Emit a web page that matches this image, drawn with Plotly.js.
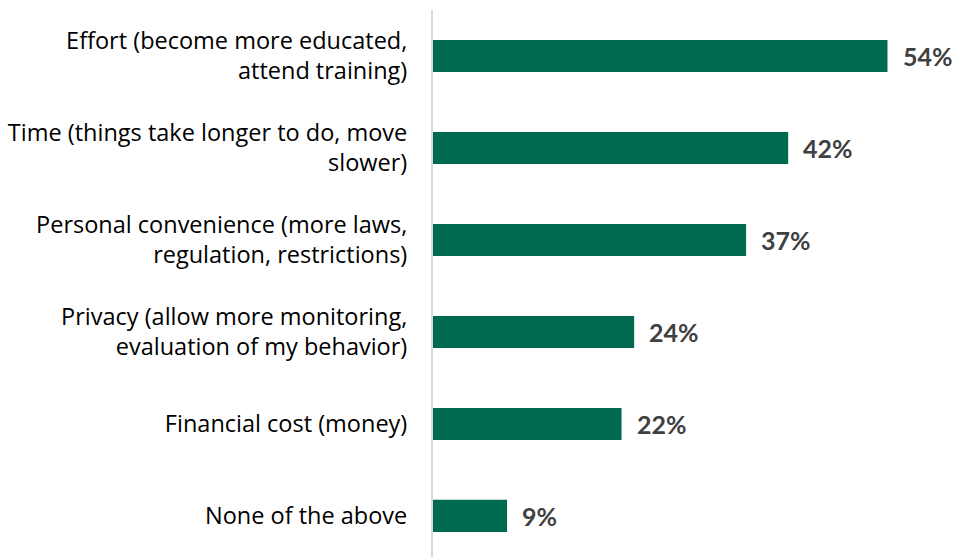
<!DOCTYPE html>
<html>
<head>
<meta charset="utf-8">
<script src="https://cdn.plot.ly/plotly-3.0.1.min.js"></script>
<style>html,body{margin:0;padding:0;background:#fff}#chart{width:956px;height:557px}</style>
</head>
<body>
<div id="chart"></div>
<script>
const categories = [
  "Effort (become more educated,<br>attend training)",
  "Time (things take longer to do, move<br>slower)",
  "Personal convenience (more laws,<br>regulation, restrictions)",
  "Privacy (allow more monitoring,<br>evaluation of my behavior)",
  "Financial cost (money)",
  "None of the above"
];
const values = [54.0, 42.2, 37.2, 23.9, 22.4, 8.8];
const valueLabels = ["54%", "42%", "37%", "24%", "22%", "9%"];

const trace = {
  type: 'bar',
  orientation: 'h',
  x: values,
  y: categories,
  marker: {color: '#006A4E'},
  width: 0.35,
  hoverinfo: 'none'
};

const annotations = values.map((v, i) => ({
  x: v, y: categories[i], xref: 'x', yref: 'y',
  text: '<b>' + valueLabels[i] + '</b>',
  showarrow: false, xanchor: 'left', xshift: 13, yshift: 0,
  font: {family: 'Lato, sans-serif', size: 25, color: '#404040'}
}));

const layout = {
  width: 956, height: 557,
  margin: {l: 433, r: 18, t: 10, b: 0},
  paper_bgcolor: '#fff', plot_bgcolor: '#fff',
  showlegend: false,
  font: {family: '"Open Sans", sans-serif', size: 22, color: '#000'},
  xaxis: {range: [0, 60], visible: false, fixedrange: true},
  yaxis: {
    type: 'category',
    range: [5.446, -0.5],
    showline: true, linecolor: '#d9d9d9', linewidth: 2,
    showgrid: false, zeroline: false,
    ticks: 'outside', ticklen: 19, tickcolor: 'rgba(0,0,0,0)',
    tickfont: {family: '"Open Sans", sans-serif', size: 23.5, color: '#000'}
  },
  annotations: annotations
};

Plotly.newPlot('chart', [trace], layout, {displayModeBar: false, staticPlot: true});
</script>
</body>
</html>
